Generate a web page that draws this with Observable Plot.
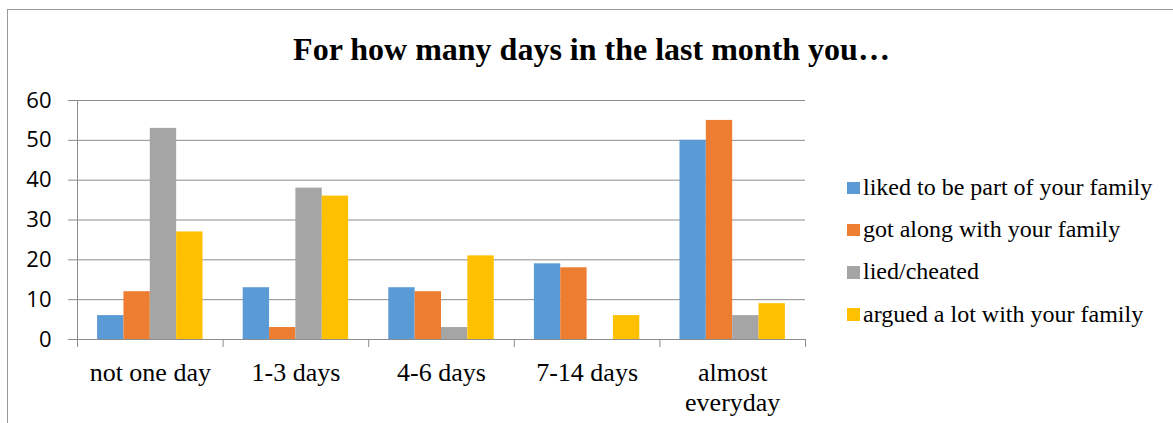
<!DOCTYPE html>
<html>
<head>
<meta charset="utf-8">
<script src="https://cdn.jsdelivr.net/npm/d3@7"></script>
<script src="https://cdn.jsdelivr.net/npm/@observablehq/plot@0.6"></script>
<style>
  html, body { margin: 0; padding: 0; background: #fff; width: 1173px; height: 423px; overflow: hidden; }
  #wrap { position: relative; width: 1173px; height: 423px; }
  #border { position: absolute; left: 7px; top: 9px; width: 1300px; height: 600px; border: 1px solid #9a9a9a; box-sizing: border-box; }
  #chart { position: absolute; left: 0; top: 0; }
  #title { position: absolute; left: 591.5px; top: 33px; transform: translateX(-50%); white-space: nowrap;
           font-family: "Liberation Serif", "Times New Roman", serif; font-weight: bold; font-size: 32px; line-height: 32px; color: #000; }
  #legend { position: absolute; left: 847px; top: 175px; font-family: "Liberation Serif", "Times New Roman", serif; font-size: 24px; line-height: 24px; color: #000; }
  .row { display: flex; align-items: flex-start; height: 42.2px; white-space: nowrap; }
  .row span { font-family: "Liberation Serif", "Times New Roman", serif; }
  .sw { width: 12.6px; height: 12.6px; margin-top: 6.7px; margin-right: 3.4px; flex: none; }
</style>
</head>
<body>
<div id="wrap">
  <div id="border"></div>
  <div id="chart"></div>
  <div id="title"></div>
  <div id="legend"></div>
</div>
<script>
const titleText = "For how many days in the last month you…";
const categories = ["not one day", "1-3 days", "4-6 days", "7-14 days", "almost everyday"];
const categoryLabels = ["not one day", "1-3 days", "4-6 days", "7-14 days", "almost\neveryday"];
const seriesNames = [
  "liked to be part of your family",
  "got along with your family",
  "lied/cheated",
  "argued a lot with your family"
];
const seriesColors = ["#5B9BD5", "#ED7D31", "#A5A5A5", "#FFC000"];
const likedValues  = [6, 13, 13, 19, 50];
const gotAlongValues = [12, 3, 12, 18, 55];
const liedValues   = [53, 38, 3, 0, 6];
const arguedValues = [27, 36, 21, 6, 9];
const yTicks = [0, 10, 20, 30, 40, 50, 60];

const seriesValues = [likedValues, gotAlongValues, liedValues, arguedValues];
const rows = [];
categories.forEach((c, ci) => {
  seriesNames.forEach((s, si) => {
    rows.push({ category: c, ci, series: s, si, value: seriesValues[si][ci] });
  });
});

// grouped layout within each category band (fractions of a band)
const barFrac = 0.181;
const gapFrac = (1 - seriesNames.length * barFrac) / 2;

const grey = "#8c8c8c";
const plot = Plot.plot({
  width: 1173,
  height: 423,
  marginLeft: 77,
  marginRight: 368,
  marginTop: 100,
  marginBottom: 84,
  style: { background: "transparent", overflow: "visible" },
  x: { type: "linear", domain: [0, categories.length], label: null },
  y: { domain: [0, 60], label: null },
  color: { domain: seriesNames, range: seriesColors },
  marks: [
    Plot.gridY(yTicks, { stroke: grey, strokeOpacity: 1, strokeWidth: 1 }),
    Plot.ruleX([0], { y1: 0, y2: 60, stroke: grey }),
    Plot.rectY(rows, {
      x1: d => d.ci + gapFrac + d.si * barFrac,
      x2: d => d.ci + gapFrac + (d.si + 1) * barFrac,
      y1: 0,
      y2: "value",
      fill: "series"
    }),
    Plot.ruleY([0], { stroke: grey }),
    Plot.axisY({ ticks: yTicks, tickSize: 9, tickPadding: 17, stroke: grey, fill: "#000",
      fontSize: 22, fontFamily: "Open Sans, sans-serif", label: null }),
    Plot.axisX({ ticks: d3.range(categories.length + 1), tickSize: 8, stroke: grey, tickFormat: () => "", label: null }),
    Plot.axisX({ ticks: categories.map((c, i) => i + 0.5), tickSize: 0, tickPadding: 20,
      tickFormat: v => categoryLabels[Math.floor(v)], fill: "#000", lineHeight: 1.15,
      fontSize: 26, fontFamily: "Liberation Serif, Times New Roman, serif", label: null })
  ]
});
document.getElementById("chart").appendChild(plot);
document.getElementById("title").textContent = titleText;

const legend = document.getElementById("legend");
seriesNames.forEach((s, i) => {
  const row = document.createElement("div");
  row.className = "row";
  const sw = document.createElement("div");
  sw.className = "sw";
  sw.style.background = seriesColors[i];
  const t = document.createElement("span");
  t.textContent = s;
  row.appendChild(sw);
  row.appendChild(t);
  legend.appendChild(row);
});
</script>
</body>
</html>
